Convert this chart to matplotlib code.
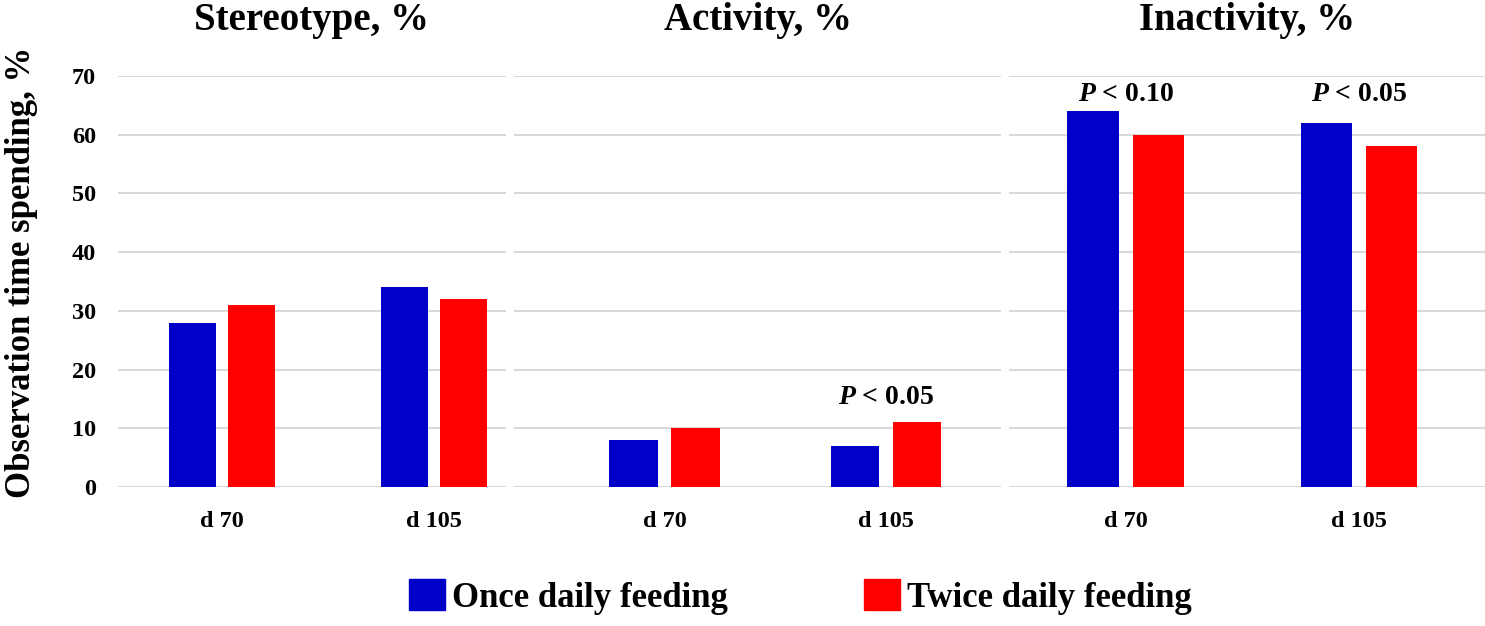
"""Observation time spending by behaviour, feeding frequency and day."""

import matplotlib

matplotlib.use("Agg")
import matplotlib.pyplot as plt
from matplotlib.patches import Patch

plt.rcParams["font.family"] = ["Liberation Serif", "DejaVu Serif"]
plt.rcParams["font.weight"] = "bold"
plt.rcParams["mathtext.fontset"] = "custom"
plt.rcParams["mathtext.it"] = "Liberation Serif:italic:bold"
plt.rcParams["mathtext.rm"] = "Liberation Serif:bold"

panels = ["Stereotype, %", "Activity, %", "Inactivity, %"]
days = ["d 70", "d 105"]
series = ["Once daily feeding", "Twice daily feeding"]
once_daily = [[28, 34], [8, 7], [64, 62]]
twice_daily = [[31, 32], [10, 11], [60, 58]]
p_labels = [[None, None], [None, "$P$ < 0.05"], ["$P$ < 0.10", "$P$ < 0.05"]]
p_label_y = [[None, None], [None, 15.2], [66.8, 66.8]]

BLUE = "#0000c8"
RED = "#ff0000"
GRID = "#d9d9d9"

# panel geometry in figure pixels (left, right) and x-limits in group units
panel_px = [(118, 506), (514, 1001), (1009, 1485)]
panel_xlim = [(-0.49, 1.34), (-0.68, 1.52), (-0.50, 1.54)]
W, H = 1485, 626
bottom_px, top_px = 487, 76


def main() -> None:
    fig = plt.figure(figsize=(W / 100, H / 100), dpi=100)
    width = 0.22
    offset = 0.14
    for i, name in enumerate(panels):
        left, right = panel_px[i]
        ax = fig.add_axes([left / W, 1 - bottom_px / H, (right - left) / W, (bottom_px - top_px) / H])
        x = list(range(len(days)))
        ax.bar([v - offset for v in x], once_daily[i], width, color=BLUE, zorder=3)
        ax.bar([v + offset for v in x], twice_daily[i], width, color=RED, zorder=3)
        for j, label in enumerate(p_labels[i]):
            if label:
                ax.text(j, p_label_y[i][j], label, ha="center", va="center",
                        fontsize=20, fontweight="bold")
        ax.set_xlim(*panel_xlim[i])
        ax.set_ylim(0, 70)
        ax.set_yticks(range(0, 71, 10))
        ax.set_xticks(x)
        ax.set_xticklabels(days, fontsize=17.5, fontweight="bold")
        ax.tick_params(axis="both", length=0)
        ax.tick_params(axis="x", pad=17)
        ax.tick_params(axis="y", pad=16, labelsize=17.5)
        if i > 0:
            ax.tick_params(axis="y", labelleft=False)
        ax.grid(axis="y", color=GRID, linewidth=1.5, zorder=0)
        for spine in ax.spines.values():
            spine.set_visible(False)
        ax.set_title(name, fontsize=28, fontweight="bold", pad=33)

    fig.text(22 / W, 1 - 272 / H, "Observation time spending, %", rotation=90,
             ha="center", va="center", fontsize=25, fontweight="bold")

    handles = [Patch(color=BLUE), Patch(color=RED)]
    fig.legend(handles, series, loc="center", bbox_to_anchor=(0.539, 1 - 597 / H), ncol=2,
               frameon=False, prop={"size": 25, "weight": "bold"},
               handlelength=1.05, handleheight=1.0, columnspacing=3.9, handletextpad=0.2)

    fig.savefig("out.png", dpi=100)
    plt.close(fig)


if __name__ == "__main__":
    main()
